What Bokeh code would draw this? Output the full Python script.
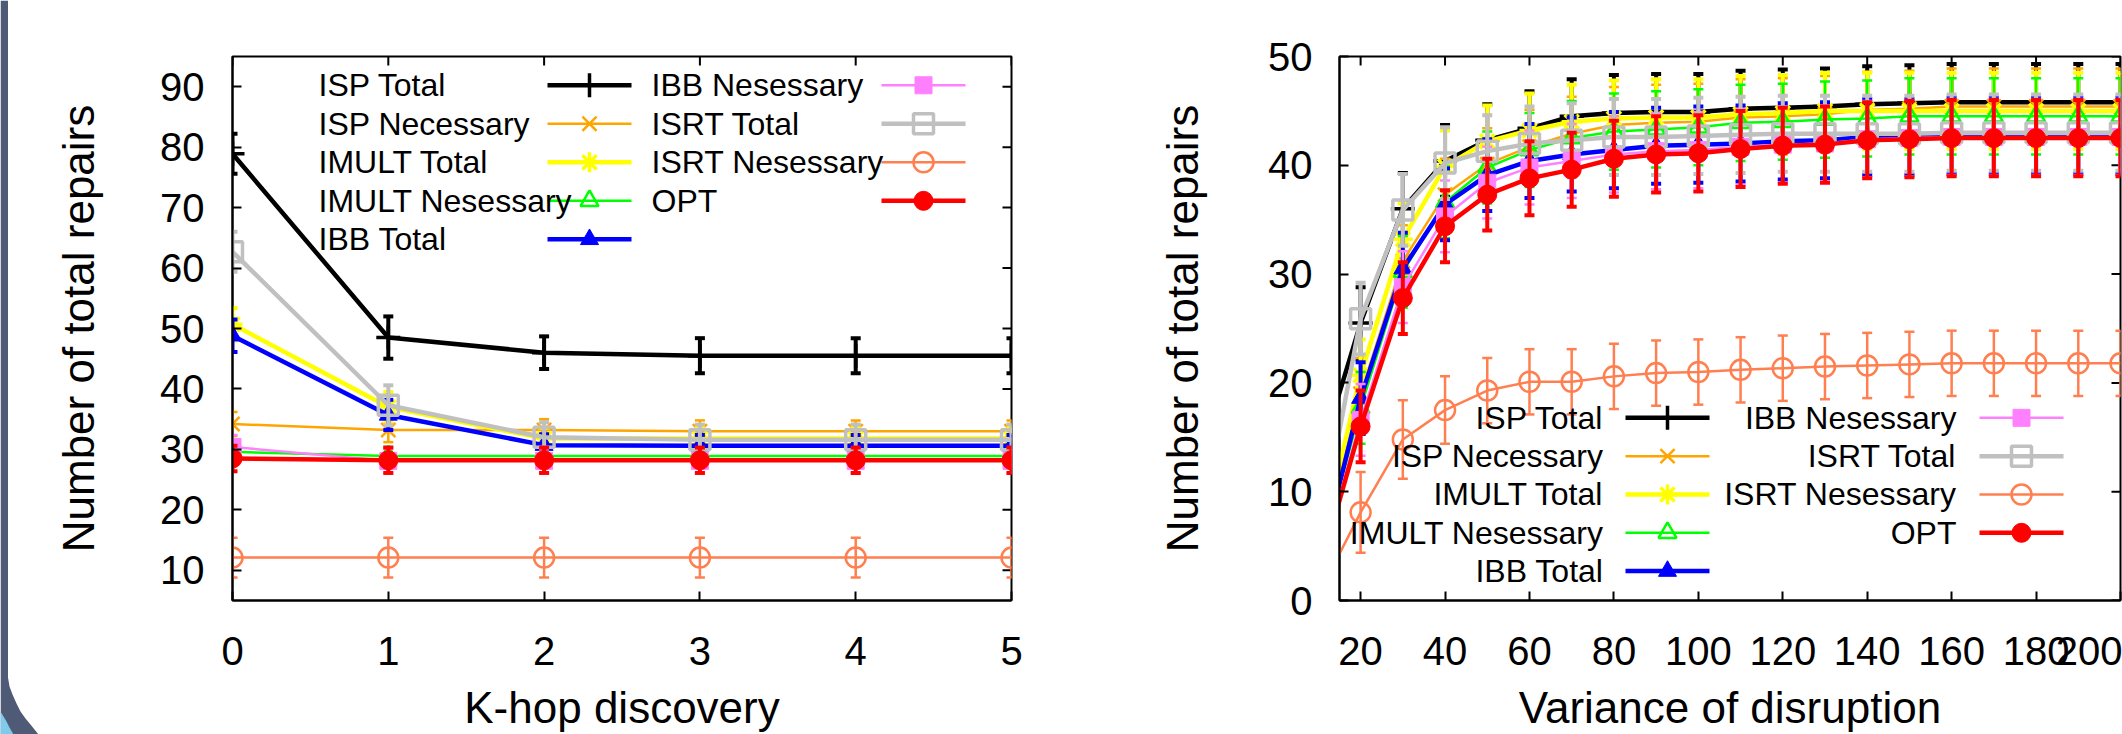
from bokeh.plotting import figure
from bokeh.layouts import row
from bokeh.models import FixedTicker, Range1d
from bokeh.embed import file_html
from bokeh.resources import INLINE
from bokeh.core.properties import value

FONT = "Liberation Sans"

# ---------------- data: left chart (K-hop discovery) ----------------
k_hop = [0, 1, 2, 3, 4, 5]
L_isp_total = [78.9, 48.5, 46.0, 45.5, 45.5, 45.5]
L_isp_nec = [34.2, 33.2, 33.2, 33.0, 33.0, 33.0]
L_imult_total = [50.7, 37.0, 31.8, 31.8, 31.8, 31.8]
L_imult_nes = [29.6, 28.9, 28.9, 28.9, 28.9, 28.9]
L_ibb_total = [48.8, 35.7, 30.7, 30.6, 30.6, 30.6]
L_ibb_nes = [30.4, 28.1, 28.1, 28.1, 28.1, 28.1]
L_isrt_total = [62.7, 37.3, 32.0, 31.6, 31.6, 31.6]
L_isrt_nes = [12.1, 12.1, 12.1, 12.1, 12.1, 12.1]
L_opt = [28.5, 28.2, 28.2, 28.2, 28.2, 28.2]

L_isp_total_err = [3.3, 3.5, 2.7, 2.9, 2.9, 2.9]
L_isp_nec_err = [2.0, 2.0, 1.8, 1.8, 1.8, 1.8]
L_imult_total_err = [2.7, 2.5, 1.8, 1.8, 1.8, 1.8]
L_imult_nes_err = [1.5, 1.5, 1.5, 1.5, 1.5, 1.5]
L_ibb_total_err = [2.7, 2.5, 1.8, 1.8, 1.8, 1.8]
L_ibb_nes_err = [2.0, 2.0, 2.0, 2.0, 2.0, 2.0]
L_isrt_total_err = [3.3, 3.3, 2.5, 2.5, 2.5, 2.5]
L_isrt_nes_err = [3.3, 3.3, 3.3, 3.3, 3.3, 3.3]
L_opt_err = [2.1, 2.1, 2.1, 2.1, 2.1, 2.1]

# ---------------- data: right chart (Variance of disruption) ----------------
variance = [10, 20, 30, 40, 50, 60, 70, 80, 90, 100, 110, 120, 130, 140, 150, 160, 170, 180, 190, 200]
R_isp_total = [12.7, 25.5, 36.0, 40.4, 42.3, 43.4, 44.5, 44.8, 44.9, 44.9, 45.2, 45.3, 45.4, 45.6, 45.7, 45.8, 45.8, 45.8, 45.8, 45.8]
R_isp_nec = [3.5, 19.0, 31.2, 37.3, 40.1, 41.7, 42.9, 43.7, 43.9, 44.0, 44.4, 44.5, 44.7, 45.1, 45.2, 45.4, 45.4, 45.4, 45.4, 45.4]
R_imult_total = [4.1, 20.7, 33.2, 39.9, 42.2, 43.2, 44.0, 44.3, 44.4, 44.4, 44.7, 44.8, 45.0, 45.0, 45.0, 45.0, 45.0, 45.0, 45.0, 45.0]
R_imult_nes = [3.0, 17.7, 30.2, 36.6, 39.8, 41.4, 42.5, 43.1, 43.3, 43.5, 43.9, 44.0, 44.2, 44.3, 44.5, 44.5, 44.5, 44.5, 44.5, 44.5]
R_ibb_total = [2.8, 18.6, 30.5, 36.4, 39.1, 40.4, 41.0, 41.4, 41.8, 41.9, 42.0, 42.2, 42.3, 42.6, 42.6, 42.7, 42.7, 42.7, 42.7, 42.7]
R_ibb_nes = [2.5, 16.6, 28.8, 35.3, 38.4, 39.8, 40.4, 41.0, 41.3, 41.4, 41.7, 41.9, 42.0, 42.4, 42.5, 42.6, 42.6, 42.6, 42.6, 42.6]
R_isrt_total = [5.3, 25.9, 35.9, 40.2, 41.3, 42.0, 42.3, 42.6, 42.6, 42.7, 42.8, 42.9, 42.9, 42.9, 42.9, 43.0, 43.0, 43.0, 43.0, 43.0]
R_isrt_nes = [0.5, 8.1, 14.8, 17.5, 19.3, 20.1, 20.1, 20.6, 20.9, 21.0, 21.2, 21.35, 21.5, 21.6, 21.7, 21.8, 21.8, 21.8, 21.8, 21.8]
R_opt = [2.4, 16.0, 27.8, 34.4, 37.3, 38.8, 39.6, 40.6, 41.0, 41.1, 41.5, 41.8, 41.9, 42.3, 42.4, 42.5, 42.5, 42.5, 42.5, 42.5]

R_err = [2.5, 3.3, 3.3, 3.3, 3.3, 3.4, 3.4, 3.5, 3.5, 3.5, 3.5, 3.5, 3.5, 3.5, 3.5, 3.5, 3.5, 3.5, 3.5, 3.5]
R_isrt_nes_err = [2.5, 3.7, 3.6, 3.1, 3.0, 3.0, 3.0, 3.0, 3.0, 3.0, 3.0, 3.0, 3.0, 3.0, 3.0, 3.0, 3.0, 3.0, 3.0, 3.0]

left_xticks = [0, 1, 2, 3, 4, 5]
left_yticks = [10, 20, 30, 40, 50, 60, 70, 80, 90]
right_xticks = [20, 40, 60, 80, 100, 120, 140, 160, 180, 200]
right_yticks = [0, 10, 20, 30, 40, 50]

series_names = ["ISP Total", "ISP Necessary", "IMULT Total", "IMULT Nesessary", "IBB Total",
                "IBB Nesessary", "ISRT Total", "ISRT Nesessary", "OPT"]

STYLES = [
    dict(color="#000000", marker="cross", lw=4.5, ew=4.0, size=24, mlw=3.5, fill=True),
    dict(color="#FFA500", marker="x", lw=2.5, ew=2.5, size=20, mlw=2.5, fill=True),
    dict(color="#FFFF00", marker="asterisk", lw=4.5, ew=4.0, size=20, mlw=3.5, fill=True),
    dict(color="#00FF00", marker="triangle", lw=2.5, ew=2.5, size=18, mlw=2.5, fill=False),
    dict(color="#0000FF", marker="triangle", lw=4.5, ew=4.0, size=18, mlw=1.0, fill=True),
    dict(color="#FF80FF", marker="square", lw=2.5, ew=2.5, size=17, mlw=1.0, fill=True),
    dict(color="#C0C0C0", marker="square", lw=4.5, ew=4.0, size=20, mlw=3.5, fill=False),
    dict(color="#FF7F50", marker="circle", lw=2.5, ew=2.5, size=20, mlw=2.5, fill=False),
    dict(color="#FF0000", marker="circle", lw=4.5, ew=4.0, size=19, mlw=1.0, fill=True),
]

H = 734
FH = 548.0       # frame height in px (both charts)
TICK = 9.0       # inward tick length in px


def draw_series(p, xs, ys, errs, st):
    c = st["color"]
    p.line(xs, ys, line_color=c, line_width=st["lw"])
    lo = [y - e for y, e in zip(ys, errs)]
    hi = [y + e for y, e in zip(ys, errs)]
    p.segment(x0=xs, y0=lo, x1=xs, y1=hi, line_color=c, line_width=st["ew"])
    p.scatter(list(xs) + list(xs), lo + hi, marker="dash", size=10, line_color=c,
              line_width=st["ew"])
    p.scatter(xs, ys, marker=st["marker"], size=st["size"], line_color=c,
              fill_color=c if st["fill"] else None, line_width=st["mlw"])


def style_fig(p, xticks, yticks, fw, y_title_standoff):
    p.outline_line_color = "black"
    p.outline_line_width = 2
    p.xgrid.grid_line_color = None
    p.ygrid.grid_line_color = None
    p.background_fill_color = "white"
    p.border_fill_color = "white"
    for ax in p.axis:
        ax.major_tick_in = int(TICK)
        ax.major_tick_out = 0
        ax.minor_tick_line_color = None
        ax.major_tick_line_width = 2
        ax.major_tick_line_color = "black"
        ax.axis_line_width = 2
        ax.major_label_text_font = FONT
        ax.major_label_text_font_size = "40px"
        ax.major_label_text_color = "black"
        ax.axis_label_text_font = FONT
        ax.axis_label_text_font_size = "44px"
        ax.axis_label_text_font_style = "normal"
        ax.axis_label_text_color = "black"
    p.xaxis.ticker = FixedTicker(ticks=xticks)
    p.yaxis.ticker = FixedTicker(ticks=yticks)
    p.xaxis.major_label_standoff = 36
    p.xaxis.axis_label_standoff = 15
    p.yaxis.major_label_standoff = 28
    p.yaxis.axis_label_standoff = y_title_standoff
    # inward ticks mirrored on the top and right frame edges
    x0, x1 = p.x_range.start, p.x_range.end
    y0, y1 = p.y_range.start, p.y_range.end
    dy = TICK / FH * (y1 - y0)
    dx = TICK / fw * (x1 - x0)
    n = len(xticks)
    p.segment(x0=xticks, y0=[y1] * n, x1=xticks, y1=[y1 - dy] * n,
              line_color="black", line_width=2)
    m = len(yticks)
    p.segment(x0=[x1] * m, y0=yticks, x1=[x1 - dx] * m, y1=yticks,
              line_color="black", line_width=2)


def draw_legend(p, fx, fy, cols):
    for items, tx, sx0, sx1, align, rows in cols:
        for idx, ry in zip(items, rows):
            st = STYLES[idx]
            y = fy(ry)
            p.line([fx(sx0), fx(sx1)], [y, y], line_color=st["color"], line_width=st["lw"])
            p.scatter([fx((sx0 + sx1) / 2)], [y], marker=st["marker"], size=st["size"],
                      line_color=st["color"], fill_color=st["color"] if st["fill"] else None,
                      line_width=st["mlw"])
            p.text([fx(tx)], [y], text=[series_names[idx]], text_align=align,
                   text_baseline="middle", text_font=value(FONT), text_font_size="32px",
                   text_color="black")


# ---------------- slide edge decoration (left strip) ----------------
p0 = figure(width=40, height=H, x_range=Range1d(0, 40), y_range=Range1d(H, 0),
            output_backend="svg", toolbar_location=None, x_axis_type=None, y_axis_type=None,
            min_border=0)
try:
    p0.frame_align = False
except Exception:
    pass
p0.outline_line_color = None
p0.xgrid.grid_line_color = None
p0.ygrid.grid_line_color = None
p0.patch([0, 7.5, 7.5, 9, 12, 16, 20, 25, 30, 34, 38, 0],
         [0, 0, 677, 686, 694, 703, 711, 718, 724, 729, 734, 734],
         fill_color="#4f5a76", line_color=None)
p0.patch([0, 3, 6, 9, 13, 0], [711, 716, 721, 727, 734, 734],
         fill_color="#7fcbe9", line_color=None)

# ---------------- left figure ----------------
FW1 = 779.0
p1 = figure(width=1020, height=H, x_range=Range1d(0, 5), y_range=Range1d(5, 95),
            output_backend="svg", toolbar_location=None,
            min_border_left=192, min_border_right=49, min_border_top=56, min_border_bottom=130,
            x_axis_label="K-hop discovery", y_axis_label="Number of total repairs")
style_fig(p1, left_xticks, left_yticks, FW1, 54)

left_data = [
    (L_isp_total, L_isp_total_err), (L_isp_nec, L_isp_nec_err),
    (L_imult_total, L_imult_total_err), (L_imult_nes, L_imult_nes_err),
    (L_ibb_total, L_ibb_total_err), (L_ibb_nes, L_ibb_nes_err),
    (L_isrt_total, L_isrt_total_err), (L_isrt_nes, L_isrt_nes_err),
    (L_opt, L_opt_err),
]
for (ys, es), st in zip(left_data, STYLES):
    draw_series(p1, k_hop, ys, es, st)

fx1 = lambda off: 0 + off / FW1 * 5
fy1 = lambda off: 95 - off / FH * 90
rows_l = [29, 67.8, 106.6, 145.4, 184.2]
draw_legend(p1, fx1, fy1, [
    ([0, 1, 2, 3, 4], 86, 315, 399, "left", rows_l),
    ([5, 6, 7, 8], 419, 649, 733, "left", rows_l),
])

# ---------------- right figure ----------------
FW2 = 781.0
p2 = figure(width=1062, height=H, x_range=Range1d(15, 200), y_range=Range1d(0, 50),
            output_backend="svg", toolbar_location=None,
            min_border_left=279, min_border_right=2, min_border_top=56, min_border_bottom=130,
            x_axis_label="Variance of disruption", y_axis_label="Number of total repairs")
style_fig(p2, right_xticks, right_yticks, FW2, 58)
p2.yaxis.major_label_standoff = 27

right_data = [
    (R_isp_total, R_err), (R_isp_nec, R_err), (R_imult_total, R_err), (R_imult_nes, R_err),
    (R_ibb_total, R_err), (R_ibb_nes, R_err), (R_isrt_total, R_err),
    (R_isrt_nes, R_isrt_nes_err), (R_opt, R_err),
]
for (ys, es), st in zip(right_data, STYLES):
    draw_series(p2, variance, ys, es, st)

fx2 = lambda off: 15 + off / FW2 * 185
fy2 = lambda off: 50 - off / FH * 50
rows_r = [364, 402.6, 441.2, 479.8, 518.4]
draw_legend(p2, fx2, fy2, [
    ([0, 1, 2, 3, 4], 264, 286, 370, "right", rows_r),
    ([5, 6, 7, 8], 617, 640, 724, "right", rows_r),
])

layout = row(p0, p1, p2, spacing=0)
open("out.html", "w").write(file_html(layout, INLINE))
